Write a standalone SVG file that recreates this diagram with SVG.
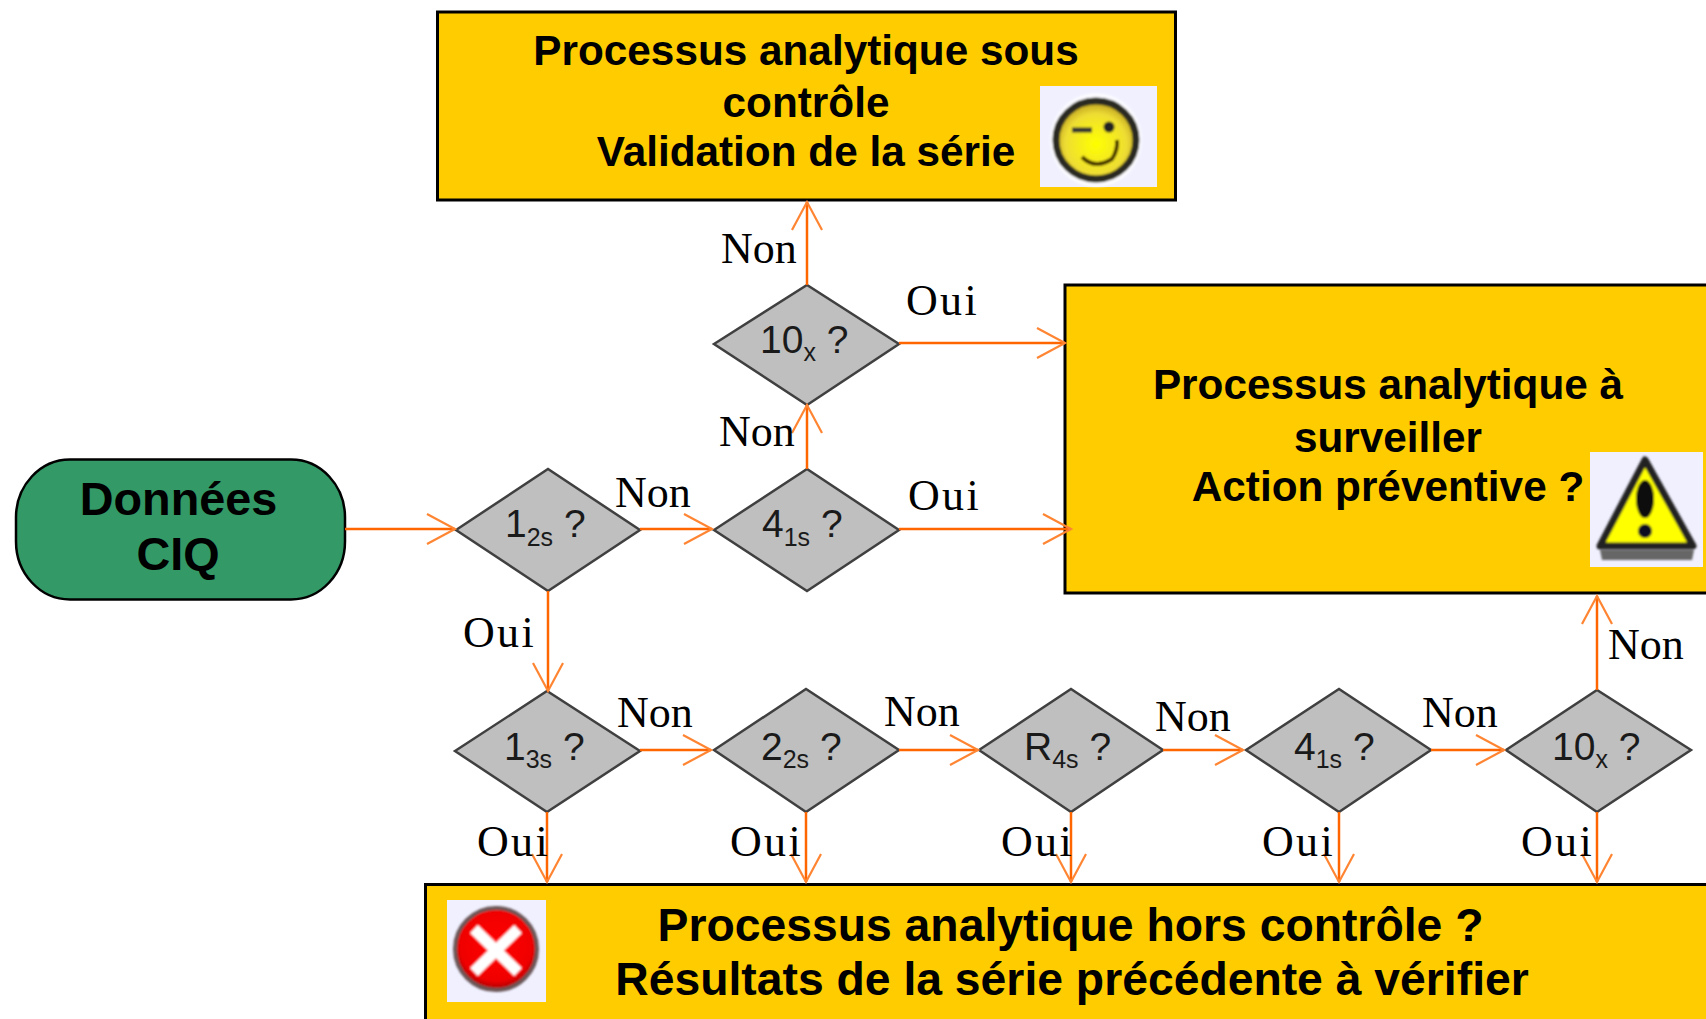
<svg xmlns="http://www.w3.org/2000/svg" width="1706" height="1019" viewBox="0 0 1706 1019">
<style>
.box{fill:#ffcc00;stroke:#000;stroke-width:3}
.dia{fill:#bfbfbf;stroke:#404040;stroke-width:2.5}
.t{font-family:"Liberation Sans",Arial,sans-serif;font-weight:bold;font-size:42.300px;fill:#000;text-anchor:middle}
.b{font-size:46.300px}
.d{font-family:"Liberation Sans",Arial,sans-serif;font-size:39px;fill:#1a1a1a}
.d .s{font-size:25px}
.l{font-family:"Liberation Serif","Times New Roman",serif;font-size:44px;fill:#000}
.o{letter-spacing:2.300px}
.c line{stroke:#ff6600;stroke-width:2.5;marker-end:url(#a)}
.bg{fill:#f0f0ff}
.i{filter:url(#soft)}
</style>
<defs>
<marker id="a" markerUnits="userSpaceOnUse" viewBox="-30 -17 32 34" refX="0" refY="0" markerWidth="32" markerHeight="34" orient="auto" overflow="visible">
<path d="M-28-15L0 0L-28 15" fill="none" stroke="#ff8533" stroke-width="2.2"/>
</marker>
<filter id="soft" x="-10%" y="-10%" width="120%" height="120%"><feGaussianBlur stdDeviation="1.200"/></filter>
<radialGradient id="sm" cx=".5" cy=".55" r=".55"><stop offset="0" stop-color="#ffff00"/><stop offset=".7" stop-color="#eedd33"/><stop offset="1" stop-color="#b89a20"/></radialGradient>
<radialGradient id="er" cx=".5" cy=".45" r=".55"><stop offset="0" stop-color="#ff0000"/><stop offset=".8" stop-color="#f00000"/><stop offset="1" stop-color="#a00000"/></radialGradient>
</defs>
<rect width="1706" height="1019" fill="#fff"/>
<g id="start"><rect x="16" y="459.500" width="329" height="140" rx="54" ry="58" fill="#339966" stroke="#000" stroke-width="2.500"/>
<text class="t" style="font-size:46.800px" x="178.500" y="515">Données</text><text class="t" style="font-size:46.800px" x="178" y="570">CIQ</text></g>
<g id="box-control"><rect class="box" x="437.500" y="12" width="738" height="188"/>
<text class="t" x="806" y="65">Processus analytique sous</text>
<text class="t" x="806" y="117">contrôle</text>
<text class="t" x="806" y="166">Validation de la série</text>
<rect class="bg" x="1040" y="86" width="117" height="101"/>
<g class="i"><ellipse cx="1096" cy="140" rx="46" ry="47" fill="#fff" opacity=".7"/>
<ellipse cx="1096" cy="140" rx="40" ry="39" fill="url(#sm)" stroke="#2b2b20" stroke-width="7"/>
<path d="M1072 130L1092 130" stroke="#333" stroke-width="5" fill="none"/><circle cx="1109" cy="127" r="5.500" fill="#222"/>
<path d="M1082 157Q1095 170 1112 159Q1118 150 1117 140" stroke="#443300" stroke-width="4" fill="none"/></g></g>
<g id="box-watch"><rect class="box" x="1065" y="285" width="660" height="308"/>
<text class="t" x="1388" y="399">Processus analytique à</text>
<text class="t" x="1388" y="452">surveiller</text>
<text class="t" x="1388" y="501">Action préventive ?</text>
<rect class="bg" x="1590" y="452" width="113" height="115"/>
<g class="i"><path d="M1600 550L1694 550L1692 560L1602 560Z" fill="#666"/>
<path d="M1645 460L1693 546L1600 546Z" fill="#ffff00" stroke="#222" stroke-width="7" stroke-linejoin="round"/>
<ellipse cx="1645" cy="499" rx="9" ry="19" fill="#111"/><circle cx="1645" cy="531" r="7" fill="#112"/></g></g>
<g id="box-out"><rect class="box" x="425.500" y="884.500" width="1300" height="160"/>
<rect class="bg" x="447" y="900" width="99" height="102"/>
<g class="i"><ellipse cx="496" cy="949" rx="41" ry="41" fill="url(#er)" stroke="#6a5656" stroke-width="4"/>
<path d="M474 929L518 972M518 929L474 972" stroke="#fff" stroke-width="11"/></g>
<text class="t b" x="1070.500" y="941">Processus analytique hors contrôle ?</text>
<text class="t b" x="1072" y="995">Résultats de la série précédente à vérifier</text></g>
<g id="d12s"><path class="dia" d="M456 530L548 469L640 530L548 591Z"/><text class="d" x="505" y="537">1<tspan class="s" dy="9">2s</tspan><tspan dy="-9"> ?</tspan></text></g>
<g id="d41s-top"><path class="dia" d="M714 530L807 469L899 530L807 591Z"/><text class="d" x="762" y="537">4<tspan class="s" dy="9">1s</tspan><tspan dy="-9"> ?</tspan></text></g>
<g id="d10x-top"><path class="dia" d="M714 344L807 285L899 344L807 405Z"/><text class="d" x="760" y="353">10<tspan class="s" dy="8">x</tspan><tspan dy="-8"> ?</tspan></text></g>
<g id="d13s"><path class="dia" d="M455 751L547 691L640 751L547 812Z"/><text class="d" x="504" y="760">1<tspan class="s" dy="8">3s</tspan><tspan dy="-8"> ?</tspan></text></g>
<g id="d22s"><path class="dia" d="M714 750L806 689L899 750L806 812Z"/><text class="d" x="761" y="760">2<tspan class="s" dy="8">2s</tspan><tspan dy="-8"> ?</tspan></text></g>
<g id="dr4s"><path class="dia" d="M979 750L1071 689L1163 750L1071 812Z"/><text class="d" x="1024" y="760">R<tspan class="s" dy="8">4s</tspan><tspan dy="-8"> ?</tspan></text></g>
<g id="d41s"><path class="dia" d="M1246 750L1339 689L1431 750L1339 812Z"/><text class="d" x="1294" y="760">4<tspan class="s" dy="8">1s</tspan><tspan dy="-8"> ?</tspan></text></g>
<g id="d10x"><path class="dia" d="M1506 750L1597 690L1691 750L1597 812Z"/><text class="d" x="1552" y="760">10<tspan class="s" dy="8">x</tspan><tspan dy="-8"> ?</tspan></text></g>
<g id="connectors" class="c">
<line x1="345" y1="529" x2="455" y2="529"/>
<line x1="640" y1="529" x2="712" y2="529"/>
<line x1="899" y1="529" x2="1071" y2="529"/>
<line x1="807" y1="469" x2="807" y2="405"/>
<line x1="899" y1="343" x2="1065" y2="343"/>
<line x1="807" y1="285" x2="807" y2="202"/>
<line x1="548" y1="591" x2="548" y2="691"/>
<line x1="640" y1="750" x2="711" y2="750"/>
<line x1="899" y1="750" x2="978" y2="750"/>
<line x1="1163" y1="750" x2="1243" y2="750"/>
<line x1="1431" y1="750" x2="1504" y2="750"/>
<line x1="547" y1="812" x2="547" y2="882"/>
<line x1="806" y1="812" x2="806" y2="882"/>
<line x1="1071" y1="812" x2="1071" y2="882"/>
<line x1="1339" y1="812" x2="1339" y2="882"/>
<line x1="1597" y1="812" x2="1597" y2="882"/>
<line x1="1597" y1="690" x2="1597" y2="596"/>
</g>
<g id="labels">
<text class="l" x="721" y="263">Non</text>
<text class="l o" x="906" y="315">Oui</text>
<text class="l" x="719" y="446">Non</text>
<text class="l" x="615" y="507">Non</text>
<text class="l o" x="908" y="510">Oui</text>
<text class="l o" x="463" y="647">Oui</text>
<text class="l" x="617" y="727">Non</text>
<text class="l" x="884" y="726">Non</text>
<text class="l" x="1155" y="731">Non</text>
<text class="l" x="1422" y="727">Non</text>
<text class="l" x="1608" y="659">Non</text>
<text class="l o" x="477" y="856">Oui</text>
<text class="l o" x="730" y="856">Oui</text>
<text class="l o" x="1001" y="856">Oui</text>
<text class="l o" x="1262" y="856">Oui</text>
<text class="l o" x="1521" y="856">Oui</text>
</g>
</svg>
